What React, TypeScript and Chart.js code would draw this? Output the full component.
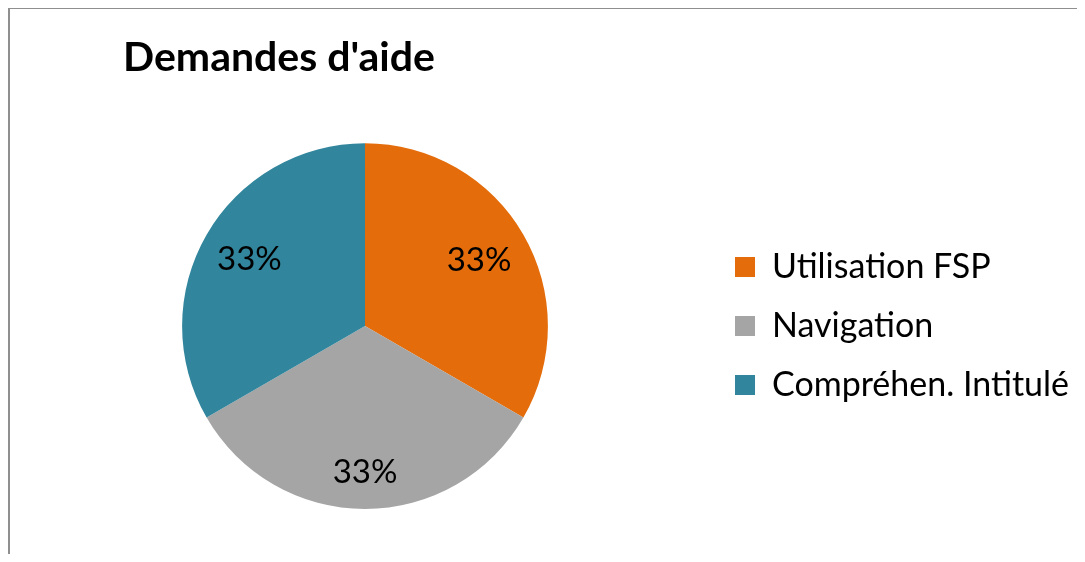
import React, { useEffect, useRef } from "react";
import { Chart, registerables } from "chart.js";

Chart.register(...registerables);

const TITLE = "Demandes d'aide";
const CATEGORIES = ["Utilisation FSP", "Navigation", "Compréhen. Intitulé"];
const VALUES = [1, 1, 1];
const COLORS = ["#E46C0A", "#A5A5A5", "#31859C"];

const FONT = "Lato, 'Open Sans', sans-serif";

const labelPlugin = {
  id: "sliceLabels",
  afterDatasetsDraw(chart: any, _args: any, opts: any) {
    const meta = chart.getDatasetMeta(0);
    const data = chart.data.datasets[0].data as number[];
    const total = data.reduce((a, b) => a + b, 0);
    const ctx = chart.ctx;
    ctx.save();
    ctx.font = `${opts.size}px ${FONT}`;
    ctx.fillStyle = "#000";
    ctx.textAlign = "center";
    ctx.textBaseline = "middle";
    meta.data.forEach((arc: any, i: number) => {
      const { x, y, startAngle, endAngle, outerRadius } = arc.getProps(
        ["x", "y", "startAngle", "endAngle", "outerRadius"],
        true
      );
      const mid = (startAngle + endAngle) / 2;
      const f = (opts.radii && opts.radii[i]) || 0.75;
      const px = x + Math.cos(mid) * outerRadius * f;
      const py = y + Math.sin(mid) * outerRadius * f;
      const pct = Math.round((data[i] / total) * 100) + "%";
      ctx.fillText(pct, px, py);
    });
    ctx.restore();
  },
};

const titleShift = {
  id: "titleShift",
  afterLayout(chart: any, _args: any, opts: any) {
    if (chart.titleBlock) chart.titleBlock.left += opts.dx;
  },
};

export default function App() {
  const ref = useRef<HTMLCanvasElement>(null);
  useEffect(() => {
    if (!ref.current) return;
    const chart = new Chart(ref.current, {
      type: "pie",
      data: {
        labels: CATEGORIES,
        datasets: [
          {
            data: VALUES,
            backgroundColor: COLORS,
            borderWidth: 0,
          },
        ],
      },
      plugins: [labelPlugin, titleShift],
      options: {
        animation: false,
        responsive: false,
        layout: { padding: { left: 20, right: 6, top: 0, bottom: 53 } },
        plugins: {
          tooltip: { enabled: false },
          title: {
            display: true,
            text: TITLE,
            align: "start",
            color: "#000",
            font: { family: FONT, size: 41, weight: "bold", lineHeight: 1.2 },
            padding: { top: 33, bottom: 61 },
          },
          legend: {
            position: "right",
            align: "center",
            fullSize: false,
            labels: {
              boxWidth: 20,
              boxHeight: 20,
              padding: 25,
              color: "#000",
              font: { family: FONT, size: 34 },
            },
          },
          sliceLabels: { size: 33, radii: [0.72, 0.8, 0.73] },
          titleShift: { dx: 103 },
        } as any,
      },
    });
    return () => chart.destroy();
  }, []);
  return (
    <div style={{ position: "relative", width: 1085, height: 562, margin: -8 }}>
      <div
        style={{
          position: "absolute",
          left: 8,
          top: 7,
          width: 1200,
          height: 700,
          borderTop: "2px solid #8f8f8f",
          borderLeft: "2px solid #8f8f8f",
          boxSizing: "border-box",
        }}
      />
      <canvas
        ref={ref}
        width={1085}
        height={562}
        style={{ position: "absolute", left: 0, top: 0, width: 1085, height: 562 }}
      />
    </div>
  );
}
